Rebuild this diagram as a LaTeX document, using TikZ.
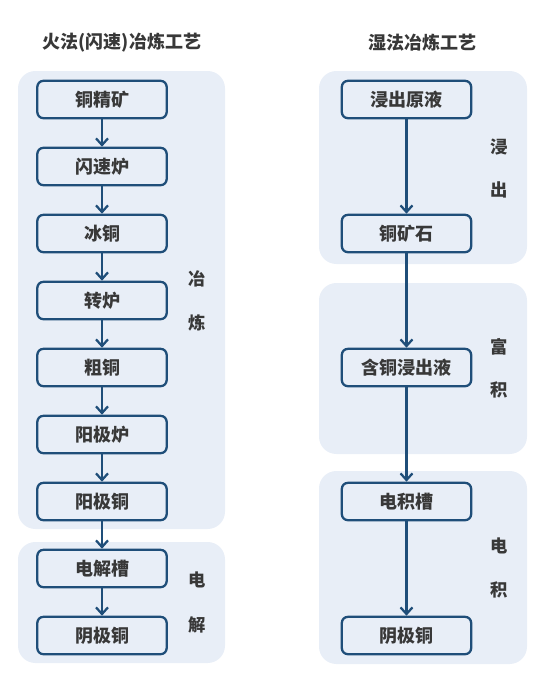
\documentclass[tikz,border=0pt]{standalone}
\usepackage{fontspec}
\setmainfont{Noto Sans CJK SC}
\usetikzlibrary{arrows.meta}
\usetikzlibrary{positioning}
\definecolor{panelblue}{HTML}{E8EEF7}
\definecolor{linkblue}{HTML}{1F4E79}
\definecolor{textgrey}{HTML}{383838}
\tikzstyle{panel}=[fill=panelblue, rounded corners=13pt]
\tikzstyle{stage}=[draw=linkblue, fill=panelblue, line width=1.7pt, rounded corners=4.5pt,
    minimum width=97pt, minimum height=28pt, inner sep=0pt,
    text=textgrey, font=\bfseries\fontsize{13.5pt}{16pt}\selectfont]
\tikzstyle{heading}=[text=textgrey, font=\bfseries\fontsize{13.5pt}{16pt}\selectfont]
\tikzstyle{side}=[text=textgrey, font=\bfseries\fontsize{13pt}{15pt}\selectfont]
\tikzstyle{link}=[draw=linkblue, line width=1.7pt, -{Straight Barb[length=5pt,width=9pt]}]

\begin{document}
\begin{tikzpicture}[x=0.75pt,y=-0.75pt]
          \useasboundingbox (0,0) rectangle (550,679);
          \fill[panel] (18,71) rectangle (225,529);
          \fill[panel] (18,542) rectangle (225,663);
          \fill[panel] (319,71) rectangle (527,264);
          \fill[panel] (319,283) rectangle (527,454);
          \fill[panel] (319,471) rectangle (527,664);
          \node[heading] (head0) at (122,43){火法(闪速)冶炼工艺};
          \node[heading] (head1) at (422,43){湿法冶炼工艺};
          \node[stage] (fire0) at (102,99.5){铜精矿};
          \node[stage] (fire1) at (102,166.5){闪速炉};
          \node[stage] (fire2) at (102,233.5){冰铜};
          \node[stage] (fire3) at (102,300.5){转炉};
          \node[stage] (fire4) at (102,367.5){粗铜};
          \node[stage] (fire5) at (102,434.5){阳极炉};
          \node[stage] (fire6) at (102,501.5){阳极铜};
          \node[stage] (fire7) at (102,568.5){电解槽};
          \node[stage] (fire8) at (102,635.5){阴极铜};
          \node[stage] (wet0) at (406.5,99.5){浸出原液};
          \node[stage] (wet1) at (406.5,233.5){铜矿石};
          \node[stage] (wet2) at (406.5,367.5){含铜浸出液};
          \node[stage] (wet3) at (406.5,501.5){电积槽};
          \node[stage] (wet4) at (406.5,635.5){阴极铜};
          \node[side] (side0) at (197,279){冶};
          \node[side] (side1) at (197,323){炼};
          \node[side] (side2) at (197,580){电};
          \node[side] (side3) at (197,625){解};
          \node[side] (side4) at (499,147){浸};
          \node[side] (side5) at (499,190){出};
          \node[side] (side6) at (499,347){富};
          \node[side] (side7) at (499,390){积};
          \node[side] (side8) at (499,546){电};
          \node[side] (side9) at (499,590){积};
          \draw[link](fire0) -- (fire1);
          \draw[link](fire1) -- (fire2);
          \draw[link](fire2) -- (fire3);
          \draw[link](fire3) -- (fire4);
          \draw[link](fire4) -- (fire5);
          \draw[link](fire5) -- (fire6);
          \draw[link](fire6) -- (fire7);
          \draw[link](fire7) -- (fire8);
          \draw[link](wet0) -- (wet1);
          \draw[link](wet1) -- (wet2);
          \draw[link](wet2) -- (wet3);
          \draw[link](wet3) -- (wet4);
        \end{tikzpicture}
\end{document}
